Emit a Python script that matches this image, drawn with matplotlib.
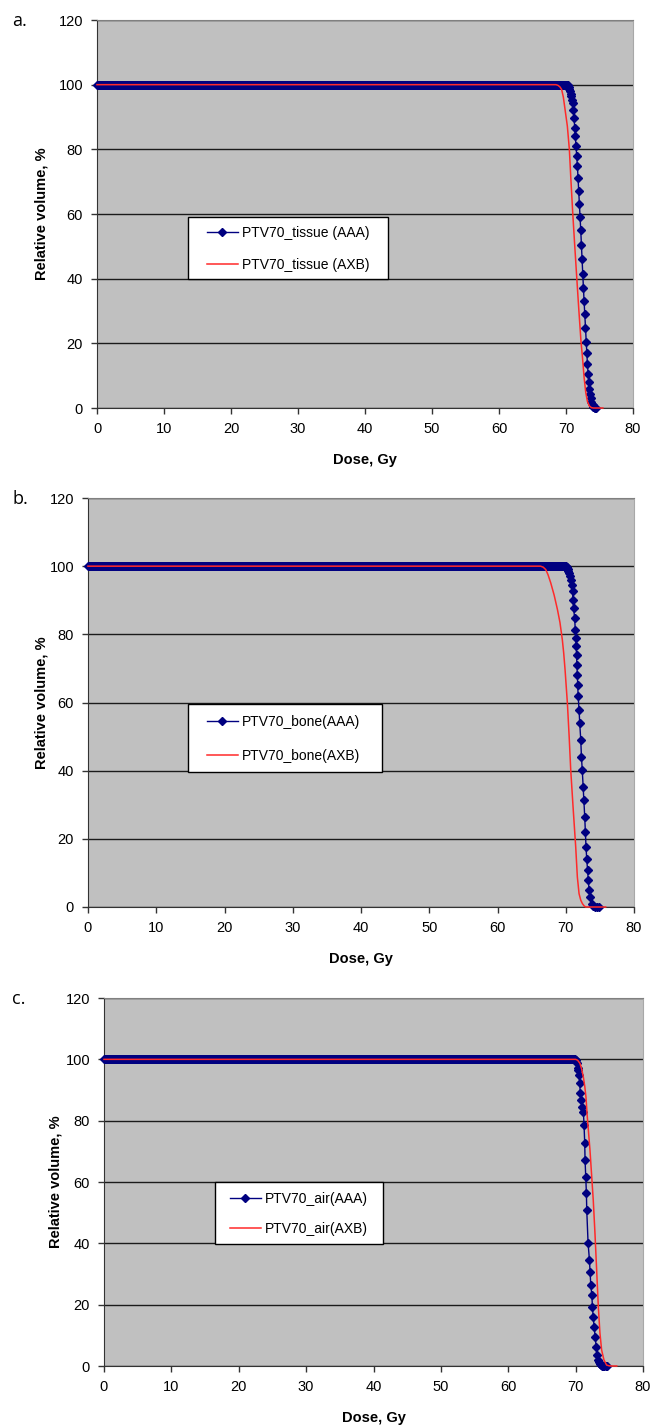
import numpy as np
import matplotlib.pyplot as plt
from matplotlib.patches import Rectangle

plt.rcParams['font.family'] = ['Liberation Sans', 'DejaVu Sans']

W, H = 652, 1425

# fall-off part of each DVH (dose in Gy, relative volume in %); both curves sit at 100 % before it
aaa_a_dose = [70.2, 70.3, 70.4, 70.5, 70.6, 70.7, 70.8, 70.9, 71.0, 71.1,
              71.2, 71.3, 71.4, 71.5, 71.6, 71.7, 71.8, 71.9, 72.0, 72.1,
              72.2, 72.3, 72.4, 72.5, 72.6, 72.7, 72.8, 72.9, 73.0, 73.1,
              73.2, 73.3, 73.4, 73.5, 73.6, 73.7, 73.8, 73.9, 74.0, 74.1,
              74.2, 74.3, 74.4, 74.5]
aaa_a_vol = [100, 99.8, 99.4, 98.8, 98.0, 97.2, 96.4, 95.4, 94.4, 92.2,
             89.7, 86.7, 84, 81, 78, 75, 71, 67, 63, 59,
             55, 50.3, 46, 41.5, 37, 33, 29, 24.6, 20.5, 17,
             13.5, 10.5, 8, 6, 4.3, 3, 2, 1.3, 0.8, 0.4,
             0.2, 0.05, 0, 0]
axb_a_dose = [0, 68.5, 68.8, 69.1, 69.35, 69.6, 69.86, 70.2, 70.5, 70.74, 71.0,
              71.3, 71.6, 71.9, 72.24, 72.45, 72.7, 72.95, 73.2, 73.5, 73.8,
              74.1, 75.5]
axb_a_vol = [100, 100, 99.8, 99.3, 98.5, 96.2, 92.3, 87.2, 80, 70.3, 60.5,
             50.3, 40.5, 30.8, 20.5, 15.9, 9.5, 4.8, 2.0, 0.6, 0.1,
             0, 0]

aaa_b_dose = [70.0, 70.1, 70.2, 70.3, 70.4, 70.5, 70.6, 70.75, 70.9, 71.0,
              71.05, 71.15, 71.3, 71.4, 71.47, 71.53, 71.58, 71.63, 71.7, 71.76,
              71.82, 71.95, 72.05, 72.2, 72.3, 72.42, 72.55, 72.65, 72.78, 72.88,
              72.97, 73.07, 73.2, 73.3, 73.42, 73.6, 73.85, 74.05, 74.3, 74.6,
              74.9]
aaa_b_vol = [100, 99.9, 99.7, 99.3, 98.7, 98.0, 97.0, 95.8, 94.6, 92.6,
             90.2, 87.7, 84.8, 81.4, 79, 76.5, 73.8, 71, 68, 65,
             61.8, 57.8, 53.9, 49, 44, 40.2, 35.3, 31.4, 26.5, 22,
             17.6, 14.2, 10.8, 7.8, 4.9, 2.9, 1.0, 0.4, 0, 0,
             0]
axb_b_dose = [0, 66.3, 66.7, 67.07, 67.4, 67.8, 68.3, 68.78, 69.15, 69.5, 69.7,
              69.9, 70.24, 70.5, 70.73, 71.07, 71.46, 71.7, 71.95, 72.2, 72.44,
              72.7, 72.93, 75.85]
axb_b_vol = [100, 100, 99.7, 99.0, 97.5, 95.1, 91.5, 87.3, 83.5, 78.4, 74.5,
             69.6, 59.8, 50, 40.2, 29.4, 17.6, 8.8, 3.9, 2.0, 1.0,
             0.3, 0, 0]

aaa_c_dose = [70.0, 70.15, 70.3, 70.4, 70.5, 70.6, 70.7, 70.85, 71.0, 71.15,
              71.25, 71.35, 71.4, 71.5, 71.6, 71.65, 71.85, 72.05, 72.15, 72.25,
              72.4, 72.5, 72.6, 72.75, 72.9, 73.05, 73.15, 73.3, 73.45, 73.6,
              73.75, 73.9, 74.05, 74.25, 74.45, 74.6]
aaa_c_vol = [99.8, 98.7, 97.2, 96.5, 94.9, 92.2, 88.9, 86.7, 84.5, 82.9,
             78.6, 72.6, 67.2, 61.7, 56.3, 50.9, 40, 34.6, 30.8, 26.4,
             23.2, 19.3, 16.1, 12.8, 9.6, 6.3, 3.6, 2.0, 1.2, 0.6,
             0.3, 0.1, 0, 0, 0, 0]
axb_c_dose = [0, 70.0, 70.3, 70.64, 70.9, 71.14, 71.35, 71.53, 71.73, 71.93,
              72.13, 72.38, 72.62, 72.87, 73.12, 73.37, 73.61, 73.86, 74.2, 74.6,
              75.0, 75.35, 76.1]
axb_c_vol = [100, 100, 99.7, 98.7, 96.8, 94.3, 91.3, 87.8, 81.3, 75.8,
             70.4, 62, 54, 43.3, 31.3, 19.3, 10.7, 5.2, 2.0, 0.3,
             0.05, 0, 0]

panel_labels = ['a.', 'b.', 'c.']
legend_names = [('PTV70_tissue (AAA)', 'PTV70_tissue (AXB)'),
                ('PTV70_bone(AAA)', 'PTV70_bone(AXB)'),
                ('PTV70_air(AAA)', 'PTV70_air(AXB)')]
x_ticks = list(range(0, 81, 10))
y_ticks = list(range(0, 121, 20))


def draw_panel(fig, rect, label, aaa, axb, names, box, entry_y, handle_x, ylab_x, spacing):
    l, t, r, b = rect
    ax = fig.add_axes([l / W, 1 - b / H, (r - l) / W, (b - t) / H])
    ax.set_facecolor('#c0c0c0')

    # flat 100 % plateau sampled every 0.1 Gy like the rest of the DVH
    flat = np.arange(0, aaa[0][0] - 0.05, 0.1)
    dose = np.concatenate([flat, aaa[0]])
    vol = np.concatenate([np.full(len(flat), 100.0), aaa[1]])

    ax.plot(dose, vol, color='#000080', lw=1, marker='D', ms=4.3,
            mec='#000080', mfc='#000080', clip_on=False, zorder=3,
            label=names[0])
    ax.plot(axb[0], axb[1], color='#ff2a2a', lw=1.1, clip_on=False,
            zorder=4, label=names[1])

    ax.set_xlim(0, 80)
    ax.set_ylim(0, 120)
    ax.set_xticks(x_ticks)
    ax.set_yticks(y_ticks)
    ax.yaxis.grid(True, color='#1a1a1a', lw=1)
    ax.set_axisbelow(True)
    ax.tick_params(direction='out', length=4, width=1, color='#333333',
                   labelsize=10.5, pad=6)
    for side in ['left', 'bottom']:
        ax.spines[side].set_color('#333333')
    ax.spines['top'].set_color('#808080')
    ax.spines['right'].set_color('#a8a8a8')

    ax.set_xlabel('Dose, Gy', fontsize=10.5, fontweight='bold')
    ax.set_ylabel('Relative volume, %', fontsize=10.5, fontweight='bold')
    ax.xaxis.set_label_coords(0.5, -45 / (b - t))
    ax.yaxis.set_label_coords((ylab_x + 7 - l) / (r - l), 0.5)

    bx0, by0, bx1, by1 = box
    ax.add_patch(Rectangle((bx0 / W, 1 - by1 / H), (bx1 - bx0) / W, (by1 - by0) / H,
                           transform=fig.transFigure, fc='white', ec='black',
                           lw=1, zorder=6))
    leg = ax.legend(loc='center left',
                    bbox_to_anchor=(handle_x / W, 1 - entry_y / H),
                    bbox_transform=fig.transFigure, frameon=False,
                    borderpad=0, borderaxespad=0, fontsize=10,
                    handlelength=2.2, handletextpad=0.3, labelspacing=spacing,
                    numpoints=1)
    leg.set_zorder(7)

    fig.text(12 / W, 1 - (t + 1) / H, label, fontsize=13, family='Open Sans',
             ha='left', va='center')
    return ax


fig = plt.figure(figsize=(W / 100, H / 100), dpi=100)

draw_panel(fig, (97, 20, 633, 408), panel_labels[0],
           (aaa_a_dose, aaa_a_vol), (axb_a_dose, axb_a_vol), legend_names[0],
           (188, 217, 388, 279), 249, 207, 41, 1.3)
draw_panel(fig, (88, 498, 634, 907), panel_labels[1],
           (aaa_b_dose, aaa_b_vol), (axb_b_dose, axb_b_vol), legend_names[1],
           (188, 704, 382, 772), 739, 207, 41, 1.45)
draw_panel(fig, (104, 998, 643, 1366), panel_labels[2],
           (aaa_c_dose, aaa_c_vol), (axb_c_dose, axb_c_vol), legend_names[2],
           (215, 1182, 383, 1244), 1214, 230, 56, 1.15)

fig.savefig('out.png', dpi=100, facecolor='white')
